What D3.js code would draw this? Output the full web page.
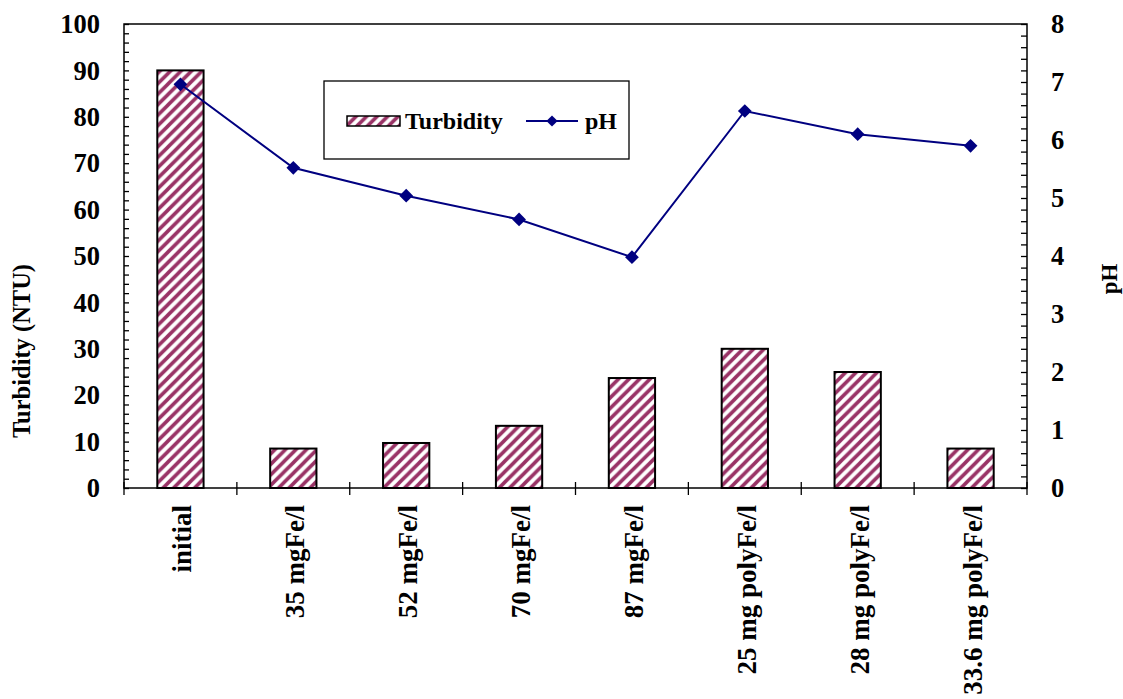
<!DOCTYPE html>
<html><head><meta charset="utf-8">
<script src="https://cdn.jsdelivr.net/npm/d3@7"></script>
<style>
html,body{margin:0;padding:0;background:#fff;}
svg text{font-family:"Liberation Serif","Times New Roman",serif;font-weight:bold;fill:#000;}
</style></head>
<body>
<svg id="chart" width="1123" height="699"></svg>
<script>
const categories = ["initial","35 mgFe/l","52 mgFe/l","70 mgFe/l","87 mgFe/l","25 mg polyFe/l","28 mg polyFe/l","33.6 mg polyFe/l"];
const turbidity = [90, 8.5, 9.7, 13.4, 23.7, 30, 25, 8.5];
const pH = [6.96, 5.52, 5.04, 4.63, 3.98, 6.5, 6.1, 5.9];
const leftTicks = [0,10,20,30,40,50,60,70,80,90,100];
const rightTicks = [0,1,2,3,4,5,6,7,8];

const svg = d3.select("#chart");
const L = 124, R = 1027, T = 24, B = 488;
const barColor = "#993366", lineColor = "#000080";

const defs = svg.append("defs");
const P = 10.5;
const pat = defs.append("pattern").attr("id","hatch").attr("patternUnits","userSpaceOnUse")
  .attr("width",P).attr("height",P);
pat.append("rect").attr("width",P).attr("height",P).attr("fill","#fff");
pat.append("path").attr("d",`M${-P/4},${P/4} l${P/2},${-P/2} M0,${P} l${P},${-P} M${P*0.75},${P*1.25} l${P/2},${-P/2}`)
  .attr("stroke",barColor).attr("stroke-width",3.6);

const x = d3.scaleBand().domain(categories).range([L,R]).paddingInner(0).paddingOuter(0);
const y = d3.scaleLinear().domain([0,100]).range([B,T]);
const y2 = d3.scaleLinear().domain([0,8]).range([B,T]);

// bars
const bw = x.bandwidth()*0.41;
svg.append("g").selectAll("rect").data(turbidity).join("rect")
  .attr("x",(d,i)=>x(categories[i])+x.bandwidth()/2-bw/2)
  .attr("y",d=>y(d)).attr("width",bw).attr("height",d=>B-y(d))
  .attr("fill","url(#hatch)").attr("stroke","#000").attr("stroke-width",2);

// frame
svg.append("rect").attr("x",L).attr("y",T).attr("width",R-L).attr("height",B-T)
  .attr("fill","none").attr("stroke","#000").attr("stroke-width",1.5);

// left axis
const gl = svg.append("g").attr("transform",`translate(${L},0)`);
gl.call(d3.axisRight(y).tickValues(d3.range(0,101,2)).tickSize(5).tickFormat(""))
  .call(g=>g.select(".domain").remove())
  .call(g=>g.selectAll("line").attr("stroke","#000").attr("stroke-width",1.3));
svg.append("g").selectAll("text").data(leftTicks).join("text")
  .attr("x",L-24).attr("y",d=>y(d)).attr("dy","0.35em").attr("text-anchor","end")
  .attr("font-size",26.5).text(d=>d);

// right axis
const gr = svg.append("g").attr("transform",`translate(${R},0)`);
gr.call(d3.axisLeft(y2).tickValues(d3.range(0,41).map(v=>v*0.2)).tickSize(6).tickFormat(""))
  .call(g=>g.select(".domain").remove())
  .call(g=>g.selectAll("line").attr("stroke","#000").attr("stroke-width",1.3));
svg.append("g").selectAll("text").data(rightTicks).join("text")
  .attr("x",R+24).attr("y",d=>y2(d)).attr("dy","0.35em").attr("text-anchor","start")
  .attr("font-size",26.5).text(d=>d);

// x ticks at boundaries
const bounds = categories.map(c=>x(c)).concat([R]);
svg.append("g").selectAll("line").data(bounds).join("line")
  .attr("x1",d=>d).attr("x2",d=>d).attr("y1",B-6).attr("y2",B+7)
  .attr("stroke","#000").attr("stroke-width",1.3);

// category labels
svg.append("g").selectAll("text").data(categories).join("text")
  .attr("transform",d=>`translate(${x(d)+x.bandwidth()/2+11},505) rotate(-90)`)
  .attr("text-anchor","end").attr("font-size",27).text(d=>d);

// pH line
const line = d3.line().x((d,i)=>x(categories[i])+x.bandwidth()/2).y(d=>y2(d));
svg.append("path").datum(pH).attr("d",line).attr("fill","none")
  .attr("stroke",lineColor).attr("stroke-width",2);
const diamond = d3.symbol().type(d3.symbolDiamond2).size(120);
svg.append("g").selectAll("path").data(pH).join("path")
  .attr("transform",(d,i)=>`translate(${x(categories[i])+x.bandwidth()/2},${y2(d)})`)
  .attr("d",diamond).attr("fill",lineColor);

// axis titles
svg.append("text").attr("transform","translate(30,351) rotate(-90)").attr("text-anchor","middle")
  .attr("font-size",24.5).text("Turbidity (NTU)");
svg.append("text").attr("transform","translate(1117,279) rotate(-90)").attr("text-anchor","middle")
  .attr("font-size",23).text("pH");

// legend
const lg = svg.append("g");
lg.append("rect").attr("x",324).attr("y",81).attr("width",305).attr("height",78)
  .attr("fill","#fff").attr("stroke","#000").attr("stroke-width",1.3);
lg.append("rect").attr("x",347).attr("y",116).attr("width",53).attr("height",10)
  .attr("fill","url(#hatch)").attr("stroke","#000").attr("stroke-width",1.5);
lg.append("text").attr("x",405).attr("y",129).attr("font-size",24).text("Turbidity");
lg.append("line").attr("x1",526).attr("x2",578).attr("y1",121).attr("y2",121)
  .attr("stroke",lineColor).attr("stroke-width",2);
lg.append("path").attr("transform","translate(552,121)").attr("d",d3.symbol().type(d3.symbolDiamond2).size(80)).attr("fill",lineColor);
lg.append("text").attr("x",585).attr("y",129).attr("font-size",24).text("pH");
</script>
</body></html>
